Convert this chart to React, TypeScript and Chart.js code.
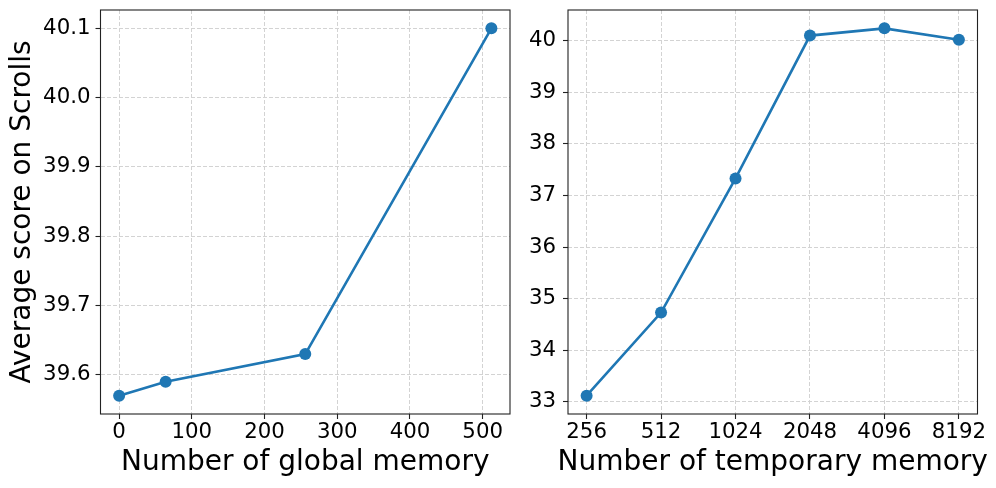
import React, { useEffect, useRef } from "react";
import { Chart, registerables } from "chart.js";

Chart.register(...registerables);

// ---- data ----
const globalMemory = [0, 64, 256, 512];
const globalScores = [39.57, 39.59, 39.63, 40.1];
const globalXTicks = [0, 100, 200, 300, 400, 500];
const globalYTicks = [39.6, 39.7, 39.8, 39.9, 40.0, 40.1];

const tempMemoryLabels = ["256", "512", "1024", "2048", "4096", "8192"];
const tempScores = [33.12, 34.73, 37.33, 40.1, 40.24, 40.02];
const tempYTicks = [33, 34, 35, 36, 37, 38, 39, 40];

const yTitle = "Average score on Scrolls";
const xTitleLeft = "Number of global memory";
const xTitleRight = "Number of temporary memory";

// ---- style ----
const FONT = '"DejaVu Sans", sans-serif';
const BLUE = "#1f77b4";
const TICK_SIZE = 21.3;
const LABEL_SIZE = 28;

function limits(vals: number[]): [number, number] {
  const lo = Math.min(...vals);
  const hi = Math.max(...vals);
  const m = (hi - lo) * 0.05;
  return [lo - m, hi + m];
}

const framePlugin = {
  id: "frame",
  afterDraw(chart: any, _args: any, opts: any) {
    const { ctx, chartArea: a } = chart;
    ctx.save();
    ctx.strokeStyle = "#222";
    ctx.lineWidth = 1.1;
    ctx.strokeRect(a.left, a.top, a.right - a.left, a.bottom - a.top);
    if (opts && opts.xTitle) {
      ctx.font = `${LABEL_SIZE}px ${FONT}`;
      ctx.fillStyle = "#000";
      ctx.textAlign = "center";
      ctx.textBaseline = "middle";
      const xs = chart.scales.x;
      ctx.fillText(opts.xTitle, (a.left + a.right) / 2, xs.bottom - 25);
    }
    ctx.restore();
  },
};

function gridOpts() {
  return {
    color: "#d3d3d3",
    lineWidth: 1,
    drawTicks: true,
    tickLength: 5,
    tickColor: "#222",
    tickWidth: 1.1,
    tickBorderDash: [],
  };
}

function tickFont() {
  return { family: FONT, size: TICK_SIZE };
}

function lineDataset(points: { x: number; y: number }[]) {
  return {
    data: points,
    borderColor: BLUE,
    backgroundColor: BLUE,
    borderWidth: 2.6,
    pointRadius: 6,
    pointHoverRadius: 6,
    pointBorderWidth: 0,
    pointBackgroundColor: BLUE,
    tension: 0,
    fill: false,
  };
}

function fixX(s: any) {
  s.height = 74;
  s.paddingLeft = 0;
  s.paddingRight = 0;
}

function fixY(width: number) {
  return (s: any) => {
    s.width = width;
    s.paddingTop = 0;
    s.paddingBottom = 0;
  };
}

function leftConfig(): any {
  const [xmin, xmax] = limits(globalMemory);
  const [ymin, ymax] = limits(globalScores);
  return {
    type: "line",
    data: {
      datasets: [lineDataset(globalMemory.map((x, i) => ({ x, y: globalScores[i] })))],
    },
    options: {
      responsive: false,
      animation: false,
      devicePixelRatio: 1,
      events: [],
      layout: { padding: { left: 0, top: 10, right: 10, bottom: 0 } },
      plugins: {
        legend: { display: false },
        tooltip: { enabled: false },
        frame: { xTitle: xTitleLeft },
      },
      scales: {
        x: {
          type: "linear",
          min: xmin,
          max: xmax,
          afterBuildTicks: (s: any) => {
            s.ticks = globalXTicks.map((value) => ({ value }));
          },
          afterFit: fixX,
          ticks: {
            font: tickFont(),
            color: "#000",
            padding: 1,
            autoSkip: false,
            maxRotation: 0,
            callback: (v: number) => String(v),
          },
          grid: gridOpts(),
          border: { display: false, dash: [4, 2] },
        },
        y: {
          type: "linear",
          min: ymin,
          max: ymax,
          afterBuildTicks: (s: any) => {
            s.ticks = globalYTicks.map((value) => ({ value }));
          },
          afterFit: fixY(100.5),
          ticks: {
            font: tickFont(),
            color: "#000",
            padding: 5,
            autoSkip: false,
            callback: (v: number) => v.toFixed(1),
          },
          title: {
            display: true,
            text: yTitle,
            font: { family: FONT, size: LABEL_SIZE },
            color: "#000",
            padding: { top: 6, bottom: 0 },
          },
          grid: gridOpts(),
          border: { display: false, dash: [4, 2] },
        },
      },
    },
    plugins: [framePlugin],
  };
}

function rightConfig(): any {
  const idx = tempMemoryLabels.map((_, i) => i);
  const [xmin, xmax] = limits(idx);
  const [ymin, ymax] = limits(tempScores);
  return {
    type: "line",
    data: {
      datasets: [lineDataset(tempScores.map((y, i) => ({ x: i, y })))],
    },
    options: {
      responsive: false,
      animation: false,
      devicePixelRatio: 1,
      events: [],
      layout: { padding: { left: 0, top: 10, right: 18.5, bottom: 0 } },
      plugins: {
        legend: { display: false },
        tooltip: { enabled: false },
        frame: { xTitle: xTitleRight },
      },
      scales: {
        x: {
          type: "linear",
          min: xmin,
          max: xmax,
          afterBuildTicks: (s: any) => {
            s.ticks = idx.map((value) => ({ value }));
          },
          afterFit: fixX,
          ticks: {
            font: tickFont(),
            color: "#000",
            padding: 1,
            autoSkip: false,
            maxRotation: 0,
            callback: (v: number) => tempMemoryLabels[Math.round(v)] ?? "",
          },
          grid: gridOpts(),
          border: { display: false, dash: [4, 2] },
        },
        y: {
          type: "linear",
          min: ymin,
          max: ymax,
          afterBuildTicks: (s: any) => {
            s.ticks = tempYTicks.map((value) => ({ value }));
          },
          afterFit: fixY(48),
          ticks: {
            font: tickFont(),
            color: "#000",
            padding: 7,
            autoSkip: false,
            callback: (v: number) => String(v),
          },
          grid: gridOpts(),
          border: { display: false, dash: [4, 2] },
        },
      },
    },
    plugins: [framePlugin],
  };
}

function PlotCanvas({ makeConfig, left, width }: { makeConfig: () => any; left: number; width: number }) {
  const ref = useRef<HTMLCanvasElement | null>(null);
  useEffect(() => {
    if (!ref.current) return;
    const chart = new Chart(ref.current, makeConfig());
    return () => chart.destroy();
  }, []);
  return (
    <canvas
      ref={ref}
      width={width}
      height={488}
      style={{ position: "absolute", left, top: 0, width, height: 488 }}
    />
  );
}

export default function App() {
  return (
    <div
      style={{
        position: "fixed",
        left: 0,
        top: 0,
        width: 996,
        height: 488,
        background: "#fff",
        overflow: "hidden",
      }}
    >
      <PlotCanvas makeConfig={leftConfig} left={0} width={520} />
      <PlotCanvas makeConfig={rightConfig} left={520} width={476} />
    </div>
  );
}
